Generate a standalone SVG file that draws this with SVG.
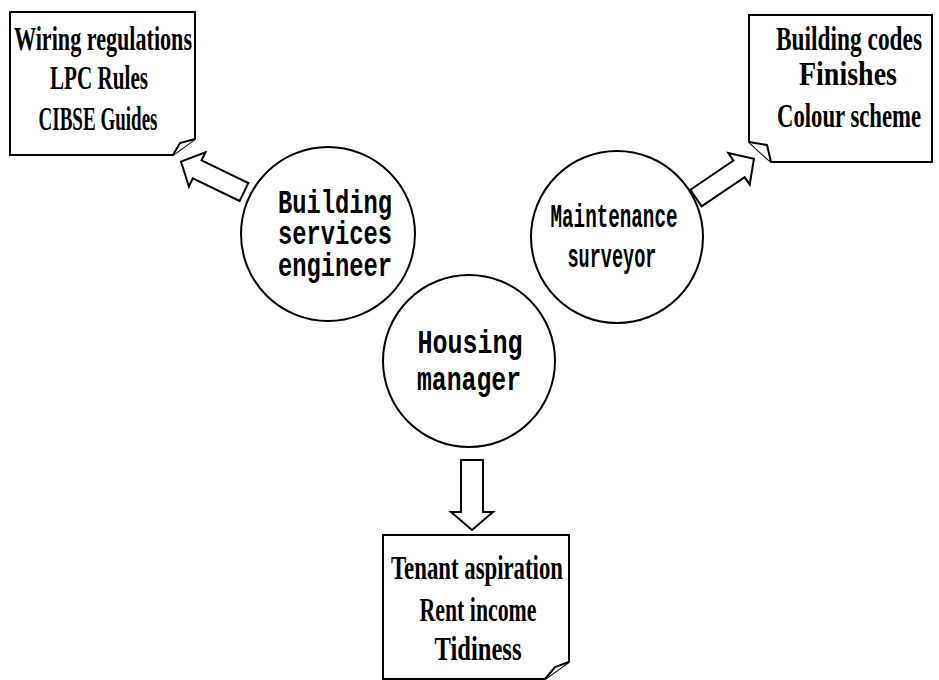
<svg xmlns="http://www.w3.org/2000/svg" width="939" height="680" viewBox="0 0 939 680">
  <style>
    .shape { fill: #fff; stroke: #000; stroke-width: 2; stroke-linejoin: miter; }
    .note { font-family: "Liberation Serif", "Times New Roman", serif; font-weight: bold; font-size: 34px; fill: #000; text-anchor: middle; }
    .role { font-family: "Liberation Mono", "Courier New", monospace; font-weight: bold; font-size: 33px; fill: #000; text-anchor: middle; }
  </style>
  <defs>
    <!-- hollow block arrow, tail at origin, pointing along +x -->
    <polygon id="blockArrow" points="0,-10 52,-10 52,-19 70,0 52,19 52,10 0,10"/>
  </defs>
  <rect width="939" height="680" fill="#fff"/>

  <!-- role circles -->
  <g id="building-services-engineer">
    <circle class="shape" cx="328" cy="234" r="87"/>
    <text class="role" x="335" y="213" textLength="114" lengthAdjust="spacingAndGlyphs">Building</text>
    <text class="role" x="335" y="244" textLength="114" lengthAdjust="spacingAndGlyphs">services</text>
    <text class="role" x="335" y="276" textLength="114" lengthAdjust="spacingAndGlyphs">engineer</text>
  </g>

  <g id="maintenance-surveyor">
    <circle class="shape" cx="617" cy="237" r="86"/>
    <text class="role" x="614" y="227" textLength="127" lengthAdjust="spacingAndGlyphs">Maintenance</text>
    <text class="role" x="612" y="267" textLength="89" lengthAdjust="spacingAndGlyphs">surveyor</text>
  </g>

  <g id="housing-manager">
    <circle class="shape" cx="469" cy="361" r="86"/>
    <text class="role" x="470" y="353" textLength="105" lengthAdjust="spacingAndGlyphs">Housing</text>
    <text class="role" x="469" y="390" textLength="104" lengthAdjust="spacingAndGlyphs">manager</text>
  </g>

  <!-- note cards with folded corners -->
  <g id="note-services">
    <path class="shape" d="M10,12 H195 V139 L173,155 H10 Z"/>
    <path class="shape" d="M195,139 L180,143 L173,155"/>
    <text class="note" x="103" y="50" textLength="178" lengthAdjust="spacingAndGlyphs">Wiring regulations</text>
    <text class="note" x="99" y="89" textLength="98" lengthAdjust="spacingAndGlyphs">LPC Rules</text>
    <text class="note" x="98" y="130" textLength="119" lengthAdjust="spacingAndGlyphs">CIBSE Guides</text>
  </g>

  <g id="note-maintenance">
    <path class="shape" d="M749,15 H932 V162 H771 L749,142 Z"/>
    <path class="shape" d="M749,142 L767,145 L771,162"/>
    <text class="note" x="849" y="50" textLength="146" lengthAdjust="spacingAndGlyphs">Building codes</text>
    <text class="note" x="848" y="85" textLength="98" lengthAdjust="spacingAndGlyphs">Finishes</text>
    <text class="note" x="849" y="127" textLength="144" lengthAdjust="spacingAndGlyphs">Colour scheme</text>
  </g>

  <g id="note-housing">
    <path class="shape" d="M383,535 H569 V662 L545,679 H383 Z"/>
    <path class="shape" d="M569,662 L555,667 L545,679"/>
    <text class="note" x="477" y="579" textLength="172" lengthAdjust="spacingAndGlyphs">Tenant aspiration</text>
    <text class="note" x="478" y="621" textLength="117" lengthAdjust="spacingAndGlyphs">Rent income</text>
    <text class="note" x="478" y="660" textLength="87" lengthAdjust="spacingAndGlyphs">Tidiness</text>
  </g>

  <!-- connectors: hollow block arrows from each role to its note -->
  <g id="connectors">
    <use href="#blockArrow" class="shape" transform="translate(244,192) rotate(205.8)"/>
    <use href="#blockArrow" class="shape" transform="translate(696,198) rotate(-34.1)"/>
    <polygon class="shape" points="461,460 483,460 483,512 493,512 472,530 451,512 461,512"/>
  </g>
</svg>
